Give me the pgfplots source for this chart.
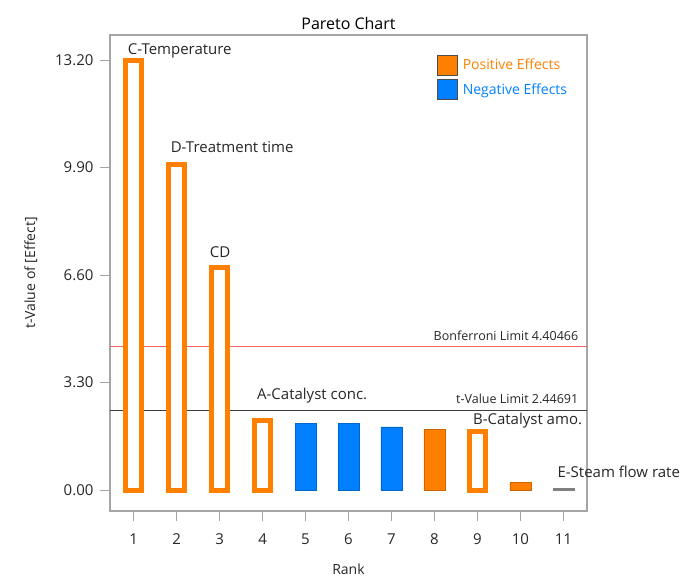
\documentclass[border=0pt]{standalone}
\usepackage{pgfplots}
\pgfplotsset{compat=1.18}
\usepackage{fontspec}
\setmainfont{Open Sans}
\definecolor{porange}{RGB}{255,128,0}
\definecolor{nblue}{RGB}{0,128,255}
\definecolor{framegray}{RGB}{165,165,165}
\definecolor{limred}{RGB}{255,100,100}
\definecolor{limblack}{RGB}{60,60,60}
\begin{document}
\begin{tikzpicture}
\path (-110pt,-66pt) rectangle (576pt,511pt);
\begin{axis}[
  at={(0pt,0pt)}, anchor=south west,
  scale only axis, width=477pt, height=476pt,
  xmin=0.45, xmax=11.55, ymin=-0.64, ymax=13.97,
  axis line style={framegray, line width=1.2pt},
  xtick={1,2,3,4,5,6,7,8,9,10,11},
  ytick={0,3.3,6.6,9.9,13.2},
  yticklabel style={xshift=-3pt, /pgf/number format/.cd, fixed, fixed zerofill, precision=2},
  /pgf/number format/assume math mode=true,
  tick align=outside, major tick length=10pt,
  tick style={framegray, line width=1pt},
  xtick pos=bottom, ytick pos=left,
  ticklabel style={font=\fontsize{15}{18}\selectfont, text=black!85},
  xticklabel style={yshift=-9pt},
  title={Pareto Chart},
  title style={font=\fontsize{16}{19}\selectfont, yshift=-4pt},
  xlabel={Rank}, ylabel={t-Value of [Effect]},
  label style={font=\fontsize{14}{17}\selectfont, text=black!85},
  xlabel style={yshift=-12pt},
  ylabel style={yshift=11pt},
  clip=false,
  legend image code/.code={\draw[#1] (0pt,-10pt) rectangle (20pt,10pt);},
  legend style={at={(axis description cs:0.6855,0.959)}, anchor=north west,
    draw=none, fill=none, inner sep=0pt, row sep=4pt,
    font=\fontsize{14}{17}\selectfont},
  legend cell align=left,
]
\addlegendimage{fill=porange, draw=black!70, line width=0.6pt}
\addlegendentry{\hspace{3pt}\textcolor{porange}{Positive Effects}}
\addlegendimage{fill=nblue, draw=black!70, line width=0.6pt}
\addlegendentry{\hspace{3pt}\textcolor{nblue}{Negative Effects}}

% limit lines
\addplot[limred, line width=1pt, forget plot] coordinates {(0.45,4.40466) (11.55,4.40466)};
\addplot[limblack, line width=1.2pt, forget plot] coordinates {(0.45,2.44691) (11.55,2.44691)};

% hollow positive effects
\addplot[ybar, bar shift=0pt, bar width=16pt, draw=porange, line width=5pt, fill=white, forget plot]
  coordinates {(1,13.2) (2,9.98) (3,6.82) (4,2.15) (9,1.79)};
% solid positive effects
\addplot[ybar, bar shift=0pt, bar width=21pt, draw=porange!80!black, line width=0.5pt, fill=porange, forget plot]
  coordinates {(8,1.87) (10,0.25)};
% negative effects
\addplot[ybar, bar shift=0pt, bar width=21pt, draw=nblue!80!black, line width=0.5pt, fill=nblue, forget plot]
  coordinates {(5,2.05) (6,2.05) (7,1.94)};
% tiny effect
\addplot[ybar, bar shift=0pt, bar width=21pt, draw=gray, fill=gray, line width=0.6pt, forget plot]
  coordinates {(11,0.05)};

\begin{scope}[every node/.style={font=\fontsize{15}{18}\selectfont, text=black!85, inner sep=0pt}]
\node[anchor=base west] at (axis cs:0.86,13.38) {C-Temperature};
\node[anchor=base west] at (axis cs:1.86,10.35) {D-Treatment time};
\node[anchor=base west] at (axis cs:2.77,7.15) {CD};
\node[anchor=base west] at (axis cs:3.87,2.79) {A-Catalyst conc.};
\node[anchor=base east] at (axis cs:11.44,2.0) {B-Catalyst amo.};
\node[anchor=base west] at (axis cs:10.86,0.40) {E-Steam flow rate};
\end{scope}
\begin{scope}[every node/.style={font=\fontsize{12.5}{15}\selectfont, text=black!85, inner sep=0pt}]
\node[anchor=base east] at (axis cs:11.35,4.6) {Bonferroni Limit 4.40466};
\node[anchor=base east] at (axis cs:11.35,2.67) {t-Value Limit 2.44691};
\end{scope}
\end{axis}
\end{tikzpicture}
\end{document}
